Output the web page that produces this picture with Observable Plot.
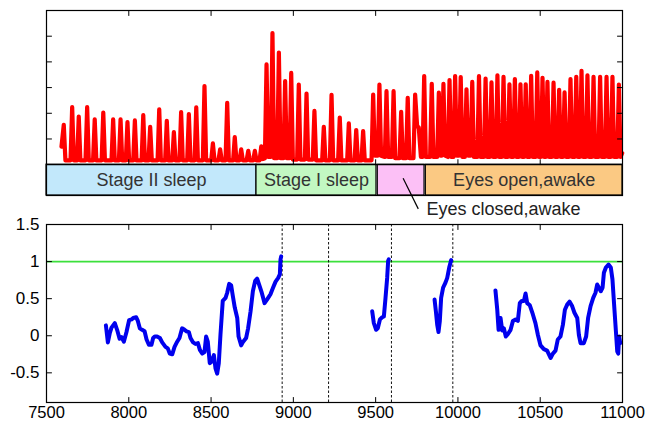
<!DOCTYPE html>
<html><head><meta charset="utf-8">
<script src="https://cdn.jsdelivr.net/npm/d3@7"></script>
<script src="https://cdn.jsdelivr.net/npm/@observablehq/plot@0.6"></script>
<style>
html,body{margin:0;padding:0;background:#fff;}
#chart{position:relative;width:650px;height:423px;font-family:"Liberation Sans",Arial,sans-serif;}
#chart svg{display:block;position:absolute;left:0;}
</style></head><body><div id="chart"></div>
<script>
const xDomain = [7500, 11000];
const xTicks = [7500, 8000, 8500, 9000, 9500, 10000, 10500, 11000];
const xInnerTicks = [8000, 8500, 9000, 9500, 10000, 10500];
const topYDomain = [-1.2, 6];
const topYTicks = [1, 2, 3, 4, 5];
const bottomYDomain = [-0.9, 1.5];
const bottomYTicks = [-0.5, 0, 0.5, 1, 1.5];
const bottomYInner = [-0.5, 0, 0.5, 1];

const stageNames = ["Stage II sleep", "Stage I sleep", "", "Eyes open,awake"];
const stageStart = [7500, 8776, 9513, 9805];
const stageEnd = [8776, 9505, 9797, 11000];
const stageColors = ["#c2e8fb", "#c2f8c2", "#fcc0f6", "#fbc983"];
const annotationText = "Eyes closed,awake";

const redSignal = [
[7591,0.70],[7605,1.55],[7615,0.17],
[7646,0.17],[7656,2.24],[7666,0.17],
[7686,0.17],[7696,1.87],[7706,0.17],
[7737,0.17],[7747,2.24],[7757,0.17],
[7783,0.17],[7793,1.76],[7803,0.17],
[7835,0.17],[7845,2.03],[7855,0.17],
[7895,0.17],[7905,1.76],[7915,0.17],
[7940,0.17],[7950,1.76],[7960,0.17],
[7982,0.17],[7992,1.66],[8002,0.17],
[8027,0.17],[8037,1.72],[8047,0.17],
[8078,0.17],[8088,1.93],[8098,0.17],
[8120,0.17],[8130,1.47],[8140,0.17],
[8175,0.17],[8185,2.15],[8195,0.17],
[8221,0.17],[8231,1.71],[8241,0.17],
[8264,0.17],[8274,1.27],[8284,0.17],
[8308,0.17],[8318,2.05],[8328,0.17],
[8355,0.17],[8365,1.97],[8375,0.17],
[8400,0.17],[8410,2.23],[8420,0.17],
[8450,0.17],[8460,3.06],[8470,0.17],
[8501,0.17],[8511,0.83],[8521,0.17],
[8545,0.17],[8555,0.60],[8565,0.17],
[8588,0.17],[8598,2.41],[8608,0.17],
[8634,0.17],[8644,1.07],[8654,0.17],
[8673,0.17],[8683,0.60],[8693,0.17],
[8716,0.17],[8726,0.54],[8736,0.17],
[8756,0.17],[8766,0.54],[8776,0.17],
[8795,0.17],[8805,0.71],[8815,0.22],
[8827,0.25],[8837,3.90],[8847,0.30],
[8863,0.30],[8873,5.12],[8883,0.25],
[8902,0.25],[8912,4.36],[8922,0.25],
[8940,0.25],[8950,3.25],[8960,0.25],
[8977,0.25],[8987,3.57],[8997,0.20],
[9023,0.20],[9033,3.12],[9043,0.20],
[9070,0.20],[9080,2.77],[9090,0.20],
[9118,0.20],[9128,2.09],[9138,0.17],
[9175,0.17],[9185,1.47],[9195,0.17],
[9222,0.17],[9232,2.72],[9242,0.17],
[9272,0.17],[9282,1.83],[9292,0.17],
[9327,0.17],[9337,1.61],[9347,0.17],
[9372,0.17],[9382,1.35],[9392,0.17],
[9414,0.17],[9424,1.31],[9434,0.17],
[9475,0.17],[9485,2.73],[9495,0.35],
[9513,0.35],[9523,3.12],[9533,0.35],
[9556,0.30],[9566,2.86],[9576,0.30],
[9599,0.30],[9609,2.86],[9619,0.25],
[9645,0.25],[9655,2.06],[9665,0.25],
[9685,0.25],[9695,2.60],[9705,0.25],
[9730,0.25],[9740,2.73],[9752,1.50],[9762,1.45],[9775,0.30],
[9785,0.30],[9795,3.45],[9805,0.30],
[9831,0.30],[9841,3.15],[9851,0.30],
[9874,0.30],[9884,2.80],[9894,0.35],
[9902,0.35],[9912,3.15],[9922,0.35],
[9939,0.30],[9949,3.29],[9959,0.30],
[9973,0.30],[9983,3.45],[9993,0.35],
[10007,0.35],[10017,3.41],[10027,0.30],
[10042,0.30],[10052,2.93],[10062,0.35],
[10077,0.35],[10087,3.22],[10097,0.30],
[10118,0.30],[10128,3.45],[10138,0.30],
[10158,0.30],[10168,3.35],[10178,0.30],
[10194,0.30],[10204,3.20],[10214,0.30],
[10230,0.30],[10240,3.48],[10250,0.30],
[10267,0.30],[10277,3.42],[10287,0.30],
[10303,0.30],[10313,3.13],[10323,0.30],
[10336,0.30],[10346,3.33],[10356,0.30],
[10370,0.30],[10380,3.13],[10390,0.30],
[10402,0.30],[10412,3.13],[10422,0.30],
[10435,0.30],[10445,3.46],[10455,0.30],
[10472,0.30],[10482,3.59],[10492,0.30],
[10504,0.30],[10514,3.38],[10524,0.30],
[10534,0.30],[10544,3.22],[10554,0.30],
[10571,0.30],[10581,3.19],[10591,0.30],
[10605,0.30],[10615,2.91],[10625,0.30],
[10638,0.30],[10648,2.81],[10658,0.30],
[10674,0.30],[10684,3.33],[10694,0.30],
[10709,0.30],[10719,3.42],[10729,0.30],
[10741,0.30],[10751,3.65],[10761,0.30],
[10777,0.30],[10787,3.48],[10797,0.30],
[10814,0.30],[10824,3.42],[10834,0.30],
[10854,0.30],[10864,3.42],[10874,0.30],
[10893,0.30],[10903,3.42],[10913,0.30],
[10929,0.30],[10939,3.42],[10949,0.30],
[10968,0.30],[10978,3.12],[10988,0.30],
[10998,0.45]
];

const blueSeg1 = [
[7861,0.14],[7873,-0.09],[7885,0.04],[7895,0.11],[7915,0.17],[7929,0.08],[7944,-0.04],[7956,-0.02],
[7970,-0.08],[7986,0.05],[8002,0.21],[8017,0.22],[8027,0.24],[8045,0.25],[8055,0.20],[8067,0.10],
[8081,0.08],[8096,0.06],[8108,-0.05],[8122,-0.12],[8138,-0.12],[8148,-0.03],[8158,-0.01],[8172,-0.01],
[8189,-0.03],[8203,-0.09],[8223,-0.15],[8237,-0.17],[8249,-0.24],[8264,-0.25],[8278,-0.15],[8294,-0.08],
[8308,-0.03],[8324,0.10],[8339,0.08],[8351,0.06],[8365,0.05],[8375,-0.03],[8391,-0.09],[8405,-0.11],
[8420,-0.10],[8432,-0.19],[8446,-0.24],[8460,-0.22],[8470,-0.01],[8480,-0.08],[8492,-0.37],[8503,-0.35],
[8517,-0.26],[8527,-0.44],[8537,-0.51],[8547,-0.37],[8557,0.01],[8571,0.47],[8588,0.51],[8598,0.58],
[8610,0.70],[8622,0.68],[8632,0.54],[8644,0.38],[8659,0.24],[8667,-0.01],[8683,-0.13],[8695,-0.08],
[8713,-0.03],[8725,0.10],[8740,0.33],[8754,0.60],[8768,0.74],[8780,0.77],[8792,0.69],[8808,0.58],
[8825,0.44],[8841,0.49],[8861,0.56],[8877,0.65],[8892,0.73],[8908,0.78],[8918,0.83],[8922,1.03],[8926,1.07]
];
const blueSeg2 = [
[9479,0.33],[9489,0.17],[9503,0.08],[9513,0.10],[9526,0.22],[9540,0.25],[9550,0.26],[9560,0.51],
[9570,0.78],[9576,1.01],[9580,1.03]
];
const blueSeg3 = [
[9858,0.49],[9866,0.33],[9874,0.15],[9882,0.05],[9890,0.20],[9898,0.51],[9910,0.65],[9925,0.72],
[9935,0.78],[9947,0.92],[9959,1.02]
];
const blueSeg4 = [
[10228,0.61],[10239,0.35],[10247,0.08],[10259,0.24],[10269,0.07],[10279,0.10],[10291,-0.01],[10303,0.02],
[10320,0.08],[10334,0.20],[10350,0.22],[10364,0.20],[10376,0.44],[10388,0.47],[10401,0.47],[10411,0.57],
[10421,0.44],[10437,0.41],[10455,0.29],[10471,0.17],[10486,0.01],[10502,-0.13],[10522,-0.18],[10542,-0.20],
[10563,-0.30],[10577,-0.24],[10593,-0.20],[10607,-0.05],[10623,-0.01],[10638,0.15],[10650,0.35],[10664,0.42],
[10678,0.46],[10694,0.40],[10708,0.31],[10725,0.24],[10735,0.01],[10745,-0.10],[10765,-0.10],[10779,-0.01],
[10791,0.24],[10806,0.40],[10822,0.51],[10836,0.58],[10846,0.69],[10856,0.65],[10868,0.60],[10879,0.65],
[10887,0.85],[10899,0.92],[10915,0.96],[10929,0.92],[10939,0.76],[10949,0.42],[10960,0.06],[10968,-0.21],
[10974,-0.24],[10980,-0.01],[10986,-0.10]
];
const markerTimes = [8932, 9214, 9596, 9969];
const threshold = 1;
const annotationLine = [[9667, -0.53], [9759, -1.72]];
const annotationPos = [9809, -1.75];

const stages = stageNames.map((name, i) => ({name, start: stageStart[i], end: stageEnd[i], color: stageColors[i]}));
const blueSegments = [blueSeg1, blueSeg2, blueSeg3, blueSeg4].flatMap((seg, k) => seg.map(([t, v]) => ({t, v, k})));

const tickShape = {draw(ctx, l) { ctx.moveTo(0, 0); ctx.lineTo(0, -l); }};
const tk = (data, o) => Plot.vector(data, {length: 5, anchor: "start", shape: tickShape, stroke: "black", strokeWidth: 1, ...o});

const font = '"Liberation Sans", Arial, sans-serif';

const topPlot = Plot.plot({
  width: 650, height: 220,
  marginLeft: 46, marginRight: 28, marginTop: 10, marginBottom: 25,
  style: {background: "none", fontFamily: font, fontSize: "17px", color: "black", overflow: "visible"},
  x: {domain: xDomain, axis: null},
  y: {domain: topYDomain, axis: null},
  marks: [
    Plot.rect(stages, {x1: "start", x2: "end", y1: topYDomain[0], y2: 0, fill: "color", stroke: "black", strokeWidth: 1.2}),
    Plot.text(stages, {x: d => (d.start + d.end) / 2, y: topYDomain[0] / 2, text: "name", fill: "#333", fontSize: 18}),
    Plot.line(redSignal, {x: d => d[0], y: d => d[1], stroke: "#ff0000", strokeWidth: 4.2, strokeLinejoin: "round", strokeLinecap: "round"}),
    Plot.ruleY([0], {stroke: "black", strokeWidth: 1.2}),
    Plot.frame({stroke: "black", strokeWidth: 1.2}),
    tk(topYTicks, {y: d => d, frameAnchor: "left", rotate: 90}),
    tk(topYTicks, {y: d => d, frameAnchor: "right", rotate: -90}),
    tk(xInnerTicks, {x: d => d, frameAnchor: "top", rotate: 180}),
    tk(xInnerTicks, {x: d => d, y: 0, rotate: 0}),
    Plot.link([annotationLine], {x1: d => d[0][0], y1: d => d[0][1], x2: d => d[1][0], y2: d => d[1][1], stroke: "black", strokeWidth: 1.2}),
    Plot.text([annotationPos], {x: d => d[0], y: d => d[1], text: () => annotationText, textAnchor: "start", fill: "#222", fontSize: 18})
  ]
});

const bottomPlot = Plot.plot({
  width: 650, height: 206,
  marginLeft: 46, marginRight: 28, marginTop: 7, marginBottom: 21,
  style: {background: "none", fontFamily: font, fontSize: "17px", color: "black", overflow: "visible"},
  x: {domain: xDomain},
  y: {domain: bottomYDomain},
  marks: [
    Plot.ruleY([threshold], {stroke: "#3be03b", strokeWidth: 1.8}),
    Plot.ruleX(markerTimes, {stroke: "#111", strokeWidth: 1, strokeDasharray: "2.5,2"}),
    Plot.line(blueSegments, {x: "t", y: "v", z: "k", stroke: "#0000ee", strokeWidth: 4, strokeLinejoin: "round", strokeLinecap: "round"}),
    Plot.frame({stroke: "black", strokeWidth: 1.2}),
    tk(bottomYInner, {y: d => d, frameAnchor: "left", rotate: 90}),
    tk(bottomYInner, {y: d => d, frameAnchor: "right", rotate: -90}),
    tk(xInnerTicks, {x: d => d, frameAnchor: "top", rotate: 180}),
    tk(xInnerTicks, {x: d => d, frameAnchor: "bottom", rotate: 0}),
    Plot.axisX({ticks: xTicks, anchor: "bottom", tickSize: 0, tickPadding: 4, tickFormat: d => String(d), label: null, fontSize: 16.5, fill: "black"}),
    Plot.axisY({ticks: bottomYTicks, anchor: "left", tickSize: 0, tickPadding: 7, tickFormat: d => String(d), label: null, fontSize: 17, fill: "black"})
  ]
});

const chart = document.getElementById("chart");
topPlot.style.top = "0px";
bottomPlot.style.top = "217px";
chart.appendChild(topPlot);
chart.appendChild(bottomPlot);
</script>
</body></html>
